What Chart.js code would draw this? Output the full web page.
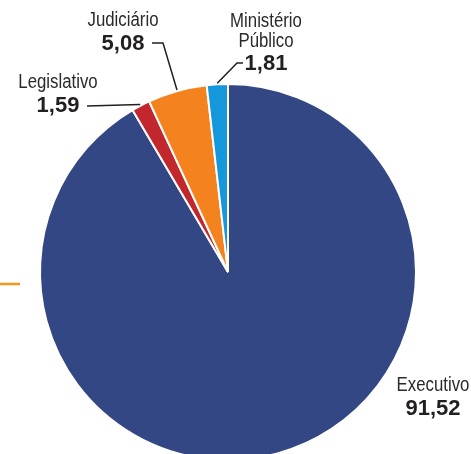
<!DOCTYPE html>
<html><head><meta charset="utf-8">
<script src="https://cdn.jsdelivr.net/npm/chart.js@4"></script>
<style>
html,body{margin:0;padding:0;background:#fff;overflow:hidden;}
#wrap{position:relative;width:471px;height:454px;overflow:hidden;}
#c{position:absolute;left:0;top:0;}
</style></head>
<body><div id="wrap"><canvas id="c" width="471" height="520"></canvas></div>
<script>
const categories = ["Executivo", "Legislativo", "Judiciário", "Ministério Público"];
const labelLines = [["Executivo"], ["Legislativo"], ["Judiciário"], ["Ministério", "Público"]];
const values = [91.52, 1.59, 5.08, 1.81];
const valueLabels = ["91,52", "1,59", "5,08", "1,81"];
const colors = ["#344785", "#c1272d", "#f4831f", "#1497db"];

const labelPlugin = {
  id: 'sliceLabels',
  afterDatasetsDraw(chart, args, opts) {
    const ctx = chart.ctx;
    const meta = chart.getDatasetMeta(0);
    ctx.save();
    // decorative orange tick at left edge
    ctx.strokeStyle = '#f7941d';
    ctx.lineWidth = 2.5;
    ctx.beginPath(); ctx.moveTo(0, 284); ctx.lineTo(20, 284); ctx.stroke();
    opts.items.forEach((it) => {
      const arc = meta.data[it.index];
      const p = arc.getProps(['x','y','startAngle','endAngle','outerRadius'], true);
      const mid = (p.startAngle + p.endAngle) / 2;
      ctx.fillStyle = '#2a2a2a';
      ctx.textAlign = 'center';
      ctx.textBaseline = 'alphabetic';
      const sx = 0.84;
      ctx.font = '20px "Liberation Sans", Arial, sans-serif';
      labelLines[it.index].forEach((t, k) => {
        ctx.save();
        ctx.translate(it.cx, it.baselines[k]);
        ctx.scale(sx, 1);
        ctx.fillText(t, 0, 0);
        ctx.restore();
      });
      ctx.fillStyle = '#231f20';
      ctx.font = 'bold 22px "Liberation Sans", Arial, sans-serif';
      ctx.fillText(valueLabels[it.index], it.cx, it.valueBaseline);
      if (it.leader) {
        const ex = p.x + Math.cos(mid) * (p.outerRadius + 1);
        const ey = p.y + Math.sin(mid) * (p.outerRadius + 1);
        ctx.strokeStyle = '#231f20';
        ctx.lineWidth = 1.5;
        ctx.beginPath();
        ctx.moveTo(it.leader[0][0], it.leader[0][1]);
        for (let i = 1; i < it.leader.length; i++) ctx.lineTo(it.leader[i][0], it.leader[i][1]);
        ctx.lineTo(ex, ey);
        ctx.stroke();
      }
    });
    ctx.restore();
  }
};

new Chart(document.getElementById('c'), {
  type: 'pie',
  data: {
    labels: categories,
    datasets: [{
      data: values,
      backgroundColor: colors,
      borderColor: '#ffffff',
      borderWidth: 2
    }]
  },
  options: {
    responsive: false,
    animation: false,
    layout: { padding: { left: 39, right: 54, top: 83, bottom: 59 } },
    plugins: {
      legend: { display: false },
      tooltip: { enabled: false },
      sliceLabels: {
        items: [
          { index: 0, cx: 433, baselines: [391], valueBaseline: 415 },
          { index: 1, cx: 58, baselines: [88], valueBaseline: 112, leader: [[87,106],[87,106]] },
          { index: 2, cx: 123, baselines: [26], valueBaseline: 50, leader: [[152,43],[163,43]] },
          { index: 3, cx: 266, baselines: [26.5, 46.5], valueBaseline: 70, leader: [[243,63],[237,63]] }
        ]
      }
    }
  },
  plugins: [labelPlugin]
});
</script></body></html>
